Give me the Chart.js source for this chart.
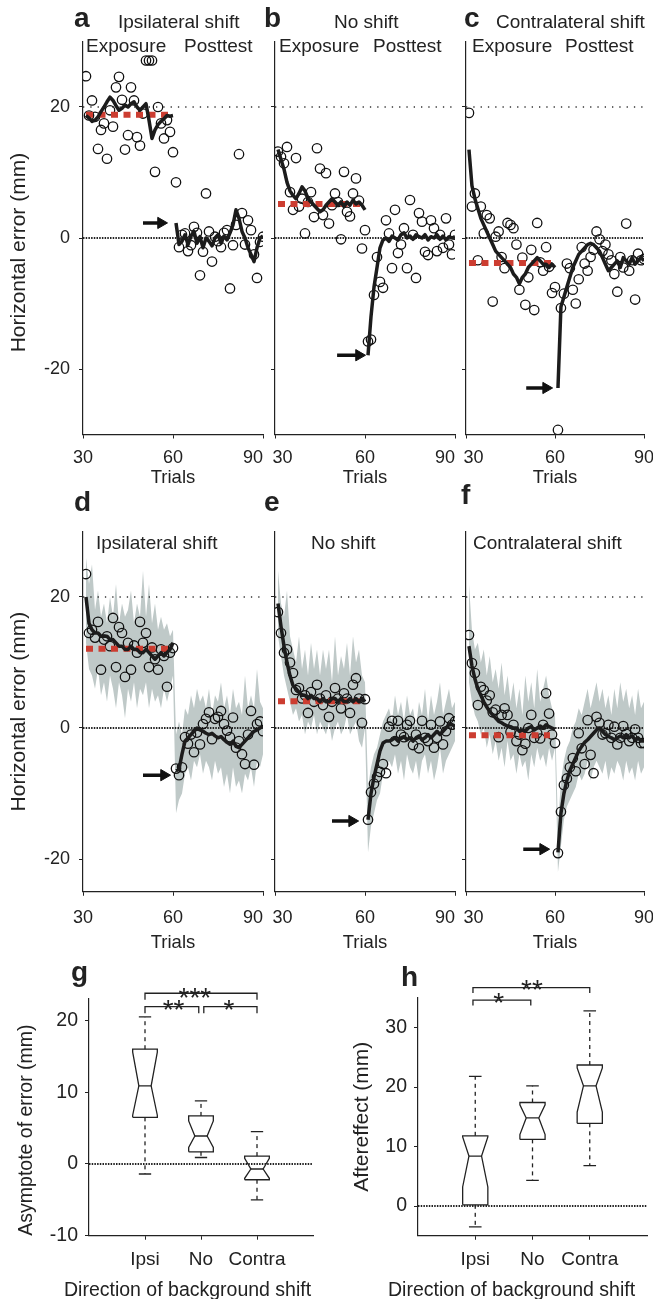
<!DOCTYPE html>
<html>
<head>
<meta charset="utf-8">
<script src="https://cdn.jsdelivr.net/npm/chart.js@4.4.1/dist/chart.umd.min.js"></script>
<style>
  body { margin: 0; background: #fff; font-family: "Liberation Sans", Arial, sans-serif; }
  #fig { position: relative; width: 653px; height: 1299px; overflow: hidden; }
  canvas { position: absolute; }
  .t { position: absolute; white-space: nowrap; line-height: 1; color: #222; }
  .lt { font-weight: bold; font-size: 28px; }
  .s { font-size: 19px; }
  .xt { font-size: 19.5px; }
</style>
</head>
<body>
<div id="fig">
  <canvas id="pa"></canvas>
  <canvas id="pb"></canvas>
  <canvas id="pc"></canvas>
  <canvas id="pd"></canvas>
  <canvas id="pe"></canvas>
  <canvas id="pf"></canvas>
  <canvas id="pg"></canvas>
  <canvas id="ph"></canvas>

  <div class="t lt" style="left:74px;top:4px">a</div>
  <div class="t lt" style="left:264px;top:4px">b</div>
  <div class="t lt" style="left:464px;top:4px">c</div>
  <div class="t s" style="left:118px;top:12px">Ipsilateral shift</div>
  <div class="t s" style="left:334px;top:12px">No shift</div>
  <div class="t s" style="left:496px;top:12px">Contralateral shift</div>
  <div class="t s" style="left:86px;top:36px">Exposure</div>
  <div class="t s" style="left:184px;top:36px">Posttest</div>
  <div class="t s" style="left:279px;top:36px">Exposure</div>
  <div class="t s" style="left:373px;top:36px">Posttest</div>
  <div class="t s" style="left:472px;top:36px">Exposure</div>
  <div class="t s" style="left:565px;top:36px">Posttest</div>

  <div class="t lt" style="left:74px;top:488px">d</div>
  <div class="t lt" style="left:264px;top:488px">e</div>
  <div class="t lt" style="left:461px;top:481px">f</div>
  <div class="t s" style="left:96px;top:533px">Ipsilateral shift</div>
  <div class="t s" style="left:311px;top:533px">No shift</div>
  <div class="t s" style="left:473px;top:533px">Contralateral shift</div>

  <div class="t lt" style="left:71px;top:958px">g</div>
  <div class="t lt" style="left:401px;top:963px">h</div>
  <div class="t xt" style="left:64px;top:1280px">Direction of background shift</div>
  <div class="t xt" style="left:388px;top:1280px">Direction of background shift</div>
</div>
<script>
Chart.defaults.font.family = '"Liberation Sans", Arial, sans-serif';
Chart.defaults.color = "#222";

const RED = "#cc3d31";
const BAND = "#bfc9c8";
const INK = "#1c1c1c";

// ---------- trials ----------
const TRIALS = [31,32,33,34,35,36,37,38,39,40,41,42,43,44,45,46,47,48,49,50,51,52,53,54,55,56,57,58,59,60,
  61,62,63,64,65,66,67,68,69,70,71,72,73,74,75,76,77,78,79,80,81,82,83,84,85,86,87,88,89,90];

// single subjects (a-c): circles = trial errors, fit = model
const aDots = [24.7,18.7,21.0,18.5,13.6,16.5,17.5,12.1,19.5,17.0,23.0,24.6,21.1,13.5,15.7,23.0,21.0,15.4,14.1,19.0,27.1,27.1,27.1,10.1,20.0,17.5,15.2,18.0,16.2,13.1,
  8.5,-1.4,0.5,0.7,-2.0,-1.1,1.7,0.8,-5.7,-2.1,6.8,1.0,-3.6,0.2,-0.5,-1.4,0.8,1.2,-7.7,-1.1,2.0,12.8,3.8,-1.0,2.7,1.2,-2.5,-6.1,-0.6,0.2];
const aFit = [18.7,18.3,17.8,18.0,18.5,19.3,20.0,20.8,21.5,21.0,20.2,19.5,19.8,20.3,20.0,20.5,20.8,20.0,19.5,20.0,20.5,18.0,15.2,16.5,17.3,17.8,18.2,18.7,18.6,18.7,
  2.3,-1.0,-0.5,0.5,-1.0,0.3,1.0,-0.8,0.2,-1.5,0.0,-0.5,-1.2,0.0,0.5,-0.8,0.3,-0.3,0.8,2.0,4.3,3.0,1.0,0.0,-1.5,-2.5,-3.6,-1.5,0.0,0.3];

const bDots = [13.2,12.4,11.4,13.9,7.0,4.3,12.2,4.8,6.0,0.7,5.5,7.0,3.2,13.7,10.6,3.5,9.9,2.2,5.0,6.8,5.5,-0.2,10.1,4.0,3.3,6.8,9.1,5.7,-1.6,1.2,
  -15.8,-15.5,-8.7,-2.9,-6.7,-7.6,2.7,0.7,-4.6,4.3,-2.3,-1.0,1.5,-4.6,5.8,0.5,-6.1,3.8,2.5,-2.1,-2.6,2.7,1.5,-2.0,0.5,-1.5,3.0,-1.0,-2.5,0.5];
const bFit = [13.5,12.0,10.5,8.5,7.2,6.5,6.0,6.8,7.8,7.2,6.0,5.5,5.0,4.5,4.0,4.3,5.0,5.5,6.0,5.5,5.0,5.5,4.8,5.5,5.0,5.8,5.2,5.5,5.0,4.3,
  -17.9,-12.0,-7.5,-4.5,-1.5,-0.3,0.0,-0.5,0.3,0.0,-0.3,0.5,0.8,0.0,0.3,-0.2,0.5,0.2,0.0,0.5,-0.3,0.2,0.0,0.5,-0.2,0.3,-0.3,0.2,0.0,0.2];

const cDots = [19.1,4.8,6.8,-3.4,4.8,0.7,3.5,3.0,-9.7,0.2,1.0,-2.9,-4.6,2.3,2.0,1.5,-1.0,-7.9,-3.0,-10.2,-6.0,-1.8,-11.0,2.3,-3.7,-5.0,-1.4,-4.4,-8.4,-7.5,
  -29.3,-10.7,-8.5,-3.9,-4.6,-7.9,-10.0,-6.3,-1.4,-3.9,-5.0,-2.9,-1.8,1.0,-0.2,-2.0,-1.0,-2.5,-3.4,-5.5,-8.2,-2.9,-4.5,2.2,-5.0,-3.4,-9.4,-2.4,-3.4,-3.2];
const cFit = [13.5,8.0,6.0,4.5,3.0,2.0,1.0,0.0,-1.0,-2.0,-2.5,-3.0,-3.5,-4.0,-4.5,-5.5,-6.0,-7.0,-6.0,-5.5,-4.5,-4.0,-3.5,-3.0,-3.5,-4.0,-4.0,-4.5,-4.0,-4.5,
  -22.9,-10.5,-9.0,-7.5,-6.0,-4.5,-3.5,-2.5,-2.0,-1.5,-1.0,-0.8,-1.0,-1.5,-2.0,-3.0,-4.0,-5.0,-4.5,-4.0,-3.5,-4.5,-3.0,-3.5,-4.0,-3.0,-4.0,-3.5,-3.0,-3.5];

// group means (d-f) with shaded spread
const dDots = [23.5,14.5,15.0,13.8,16.2,8.9,13.5,14.0,12.5,16.8,9.3,15.4,14.5,7.8,13.0,8.9,12.6,11.5,16.2,13.0,14.5,9.3,12.3,10.5,8.9,12.0,11.0,6.3,11.5,12.2,
  -6.2,-7.2,-6.0,-1.4,-2.4,-1.0,-3.7,-0.7,-2.5,0.6,1.4,2.4,-1.7,1.4,1.7,2.6,0.6,-0.4,-1.4,1.6,-3.0,-2.0,-4.0,-5.5,-1.0,2.6,-5.6,0.6,1.0,-0.5];
const dFit = [20,16,15,14.5,14.5,14,14,14,13.5,13.5,13,12.5,12.5,12,12,12.5,12,12,11.5,11.5,12,11.5,11,10.5,11,11.5,11,11.5,12,13,
  -6.5,-6.3,-4,-2,-1.5,-1,-0.5,0,-0.3,-0.5,-0.8,-1,-0.8,-1.2,-1.5,-1.3,-1.8,-2.2,-2.5,-2,-2.8,-3,-2.5,-2,-1.5,-1,-0.5,-0.3,0,0.2];
const dUp = [26,22,25,18,21,17,19,16,20,17,22,16,19,17,18,21,16,19,17,24,17,22,16,19,15,17,15,16,14,15,
  -1,1,-1,3,2,5,3,6,4,5,3,6,2,5,4,7,3,5,2,6,3,4,2,8,3,5,3,9,4,3];
const dLo = [13,9,8,6,9,5,7,4,8,6,3,7,5,1.5,6,4,7,3,6,5,7,3,6,4,5,3,6,4,6,8,
  -13,-11,-10,-7,-6,-8,-5,-6,-4,-7,-5,-6,-8,-5,-7,-6,-9,-7,-10,-6,-9,-8,-10,-7,-8,-6,-9,-5,-6,-4];

const eDots = [17.7,14.5,11.5,12.0,10.0,8.4,5.8,6.1,4.5,5.0,2.3,5.5,4.0,6.6,4.5,3.5,5.0,1.7,4.0,6.1,4.5,3.0,5.3,4.5,2.3,6.6,7.6,4.5,0.8,4.4,
  -14.0,-9.8,-8.5,-7.5,-6.7,-5.5,-6.9,0.2,1.1,-2.0,1.1,-1.0,-1.4,0.5,1.1,-2.6,-1.0,-3.1,1.1,-1.5,-2.0,0.5,-3.0,-1.5,1.0,-2.5,-0.5,1.5,0.5,1.0];
const eFit = [19,15.5,12.5,10,8,6.5,6,5.5,5,5,4.5,5,4.5,4.5,4,4.5,4,4,4.5,4.5,4,4.5,4,4,4.5,4,4.5,4,4.5,4,
  -14,-10,-7.5,-5.5,-3.5,-2.3,-2,-2,-1.8,-1.5,-2,-1.5,-1.3,-1.8,-1.5,-2,-1.5,-1.2,-1.8,-1.5,-1,-1.5,-1,-0.5,-1,-0.5,0,0.5,0.5,0.3];
const eUp = [24,19,17,21,14,12,10,14,9,12,8,13,9,12,8,12,9,12,7,14,8,11,9,13,8,14,10,12,8,7,
  -9,-6,-4,-3,-1,1,2,3,1,5,2,4,1,5,2,3,0,4,2,6,1,5,2,4,7,2,4,6,3,4];
const eLo = [14,11,8,6,4,2,3,1,2,-1,1,0,2,-1,1,0,-1,1,-2,0,1,-1,0,2,-1,0,1,-2,-3,0,
  -19,-15,-13,-11,-10,-7,-6,-5,-6,-4,-7,-5,-8,-4,-6,-7,-5,-8,-5,-4,-7,-5,-8,-6,-3,-7,-5,-4,-3,-2];

const fDots = [14.2,9.9,8.4,3.5,6.3,5.8,4.2,5.0,2.4,2.8,-1.4,2.0,3.0,2.0,-0.6,0.5,-2.0,-1.0,-3.4,-2.4,0.0,2.0,-1.5,-0.8,-1.6,0.5,5.3,2.2,-1.0,-2.3,
  -19.1,-12.8,-8.7,-7.7,-6.0,-4.6,-6.6,-0.8,-3.1,-5.5,1.2,-4.1,-6.9,1.7,0.8,-1.0,-0.8,0.5,-1.5,0.2,-2.5,-1.5,0.3,-0.9,-2.0,-1.5,-0.2,-1.5,-2.3,-2.3];
const fFit = [12.5,9.5,7.5,6,5,4,3.2,2.5,2,1.5,1,0.8,0.5,0.3,0.2,0,0,-0.5,-0.3,-0.5,0,0.2,-0.3,0,0.3,0,0.5,0.2,0,-0.2,
  -19,-13,-10,-8,-6.5,-5.5,-4.5,-3.5,-2.8,-2.2,-1.8,-1.3,-0.8,-0.3,0,-0.5,-1,-1.3,-1.5,-1.8,-1.5,-1.2,-1.5,-1,-1.5,-1.2,-1.8,-1.5,-2,-2];
const fUp = [22,15,12,13,10,12,8,11,7,9,6,10,5,8,4,7,3,6,2,8,4,7,3,9,4,6,8,5,3,2,
  -15,-8,-5,-3,-2,0,1,3,2,4,6,3,5,7,4,6,3,5,2,6,3,7,4,6,3,5,2,6,3,4];
const fLo = [7,4,2,1,-1,0,-3,-1,-4,-2,-5,-3,-6,-2,-5,-4,-7,-4,-6,-5,-8,-4,-6,-3,-5,-4,-6,-3,-5,-3,
  -22,-18,-14,-12,-11,-10,-9,-7,-8,-7,-5,-8,-6,-5,-6,-7,-5,-8,-6,-7,-5,-6,-8,-5,-7,-6,-8,-5,-7,-6];

// asymptote (red) for panels a-f: [value, last trial]
const ASYM = [[18.8, 59.7], [5.2, 59.5], [-3.8, 59.6], [12.1, 60], [4.1, 59.2], [-1.1, 58.3]];
// arrows: [start trial, tip trial, value]
const ARROWS = [[50, 58, 2.3], [50.7, 60, -17.9], [50.3, 59, -22.9], [50, 59, -7.2], [49, 57.7, -14.2], [49.3, 58, -18.5]];

// ---------- box plots ----------
const GROUPS = ["Ipsi", "No", "Contra"];
const gLo = [-1.4, 0.9, -5.0];
const gQ1 = [6.5, 1.7, -2.2];
const gMed = [10.9, 3.9, -0.7];
const gQ3 = [16.0, 6.7, 1.1];
const gHi = [20.5, 8.8, 4.5];
const gNotchLo = [6.8, 2.3, -2.0];
const gNotchHi = [15.6, 6.0, 0.8];

const hLo = [-3.5, 4.3, 6.8];
const hQ1 = [0.2, 11.2, 13.9];
const hMed = [8.4, 14.8, 20.2];
const hQ3 = [11.8, 17.4, 23.7];
const hHi = [21.8, 20.2, 32.8];
const hNotchLo = [3.2, 12.0, 15.8];
const hNotchHi = [11.6, 17.0, 23.2];

// significance brackets: [from, to, top, foot]
const gBrackets = [[1, 3, 23.8, 22.9], [1, 1.96, 21.95, 21.0], [2.05, 3, 21.95, 21.0]];
const gStars = [["***", 1.89, 21.85], ["**", 1.51, 20.2], ["*", 2.5, 20.2]];
const hBrackets = [[0.96, 3, 36.7, 35.8], [0.96, 1.97, 34.6, 33.7]];
const hStars = [["**", 1.99, 34.8], ["*", 1.41, 32.6]];

// ===================== helpers =====================
function place(id, box, area) {
  const c = document.getElementById(id);
  const w = box[2] - box[0], h = box[3] - box[1];
  c.width = w; c.height = h;
  c.style.left = box[0] + "px"; c.style.top = box[1] + "px";
  c.style.width = w + "px"; c.style.height = h + "px";
  return {
    canvas: c,
    padding: { left: 0, top: area[1] - box[1], right: box[2] - area[2], bottom: 0 },
    yWidth: area[0] - box[0],
    xHeight: box[3] - area[3],
  };
}

function axisX(p, min, max, ticks, labels, o) {
  return {
    type: "linear", min, max,
    afterBuildTicks: (s) => { s.ticks = ticks.map((v) => ({ value: v })); },
    afterFit: (s) => { s.height = p.xHeight; s.paddingLeft = 0; s.paddingRight = 0; },
    ticks: { autoSkip: false, maxRotation: 0, padding: o.tickPad, color: "#222",
      font: { size: o.tickSize, lineHeight: 1 }, callback: (v, i) => labels[i] },
    grid: { drawOnChartArea: false, tickLength: 4, color: "#222" },
    border: { color: "#222", width: 1.2 },
    title: { display: !!o.title, text: o.title || "", color: "#222",
      font: { size: o.titleSize || 18, lineHeight: 1 }, padding: { top: 0, bottom: o.titlePad || 0 } },
  };
}

function axisY(p, min, max, ticks, o) {
  return {
    type: "linear", min, max,
    afterBuildTicks: (s) => { s.ticks = ticks.map((v) => ({ value: v })); },
    afterFit: (s) => { s.width = p.yWidth; s.paddingTop = 0; s.paddingBottom = 0; },
    ticks: { padding: o.tickPad || 9, color: "#222", font: { size: o.tickSize || 18, lineHeight: 1 },
      callback: (v) => (o.labels ? String(v) : "") },
    grid: { drawOnChartArea: false, tickLength: 4, color: "#222" },
    border: { color: "#222", width: 1.2 },
    title: { display: !!o.title, text: o.title || "", color: "#222", align: o.titleAlign || "center",
      font: { size: o.titleSize || 21, lineHeight: 1 }, padding: { top: o.titlePad || 0, bottom: 0 } },
  };
}

const pts = (arr) => TRIALS.map((t, i) => ({ x: t, y: arr[i] }));
const flat = (color, width, dash) => ({ borderColor: color, borderWidth: width, borderDash: dash || [],
  pointRadius: 0, borderCapStyle: "butt", fill: false });

function trialSets(k, dots, fit, up, lo) {
  const [a0, a1, ay] = ARROWS[k];
  const sets = [
    { data: [{ x: a0, y: ay }, { x: a1 - 2, y: ay }], borderColor: "#111", borderWidth: 3.5,
      pointRadius: [0, 6.5], pointStyle: "triangle", pointRotation: 90,
      pointBackgroundColor: "#111", pointBorderColor: "#111", pointBorderWidth: 1 },
    { data: pts(fit), ...flat(INK, 3.5), borderJoinStyle: "round",
      segment: { borderColor: (c) => (c.p0.parsed.x === 60 ? "rgba(0,0,0,0)" : undefined) } },
    { data: [{ x: 31, y: ASYM[k][0] }, { x: ASYM[k][1], y: ASYM[k][0] }], ...flat(RED, 6, [7, 5.5]) },
    { data: pts(dots), showLine: false, pointRadius: 4.7, pointBorderWidth: 1.3,
      pointBorderColor: "#111", pointBackgroundColor: "rgba(0,0,0,0)" },
    { data: [{ x: 30, y: 20 }, { x: 90, y: 20 }], ...flat("#333", 1.3, [1.3, 6]) },
    { data: [{ x: 30, y: 0 }, { x: 90, y: 0 }], ...flat("#222", 2, [1.5, 1.2]) },
  ];
  if (up) {
    sets.push({ data: pts(up), borderColor: "rgba(0,0,0,0)", borderWidth: 0, pointRadius: 0,
      fill: "+1", backgroundColor: BAND });
    sets.push({ data: pts(lo), borderColor: "rgba(0,0,0,0)", borderWidth: 0, pointRadius: 0, fill: false });
  }
  return sets;
}

function trialChart(id, box, area, k, sets, o) {
  const p = place(id, box, area);
  new Chart(p.canvas, {
    type: "line",
    data: { datasets: sets },
    options: {
      responsive: false, animation: false,
      layout: { padding: p.padding },
      plugins: { legend: { display: false }, tooltip: { enabled: false } },
      scales: {
        x: axisX(p, 30, 90, [30, 60, 90], o.xLabels,
          { tickPad: o.tickPad, tickSize: 18, title: "Trials", titleSize: 18.5, titlePad: 5.25 }),
        y: axisY(p, o.yMin, 30, [-20, 0, 20],
          { labels: o.yLabels, title: o.yTitle, titleSize: 21, titlePad: 8.5, tickPad: 9 }),
      },
    },
  });
}

function starsPlugin(items) {
  return {
    id: "stars",
    afterDatasetsDraw(chart) {
      const { ctx, scales } = chart;
      ctx.save();
      ctx.font = '28px "Liberation Sans", Arial, sans-serif';
      ctx.fillStyle = "#222";
      ctx.textAlign = "center";
      ctx.textBaseline = "alphabetic";
      items.forEach(([txt, vx, vy]) => ctx.fillText(txt, scales.x.getPixelForValue(vx), scales.y.getPixelForValue(vy)));
      ctx.restore();
    },
  };
}

const BOX_W = 0.22;
function boxSets(lo, q1, med, q3, hi, nlo, nhi, brackets) {
  const solid = flat("#222", 1.3);
  const dashed = flat("#222", 1.3, [4, 4]);
  const sets = [];
  brackets.forEach(([x0, x1, top, foot]) => {
    sets.push({ data: [{ x: x0, y: foot }, { x: x0, y: top }, { x: x1, y: top }, { x: x1, y: foot }],
      ...solid, clip: false });
  });
  for (let i = 0; i < GROUPS.length; i++) {
    const x = i + 1, w = BOX_W, n = BOX_W / 2;
    sets.push({ data: [
      { x: x - w, y: q1[i] }, { x: x - w, y: nlo[i] }, { x: x - n, y: med[i] }, { x: x - w, y: nhi[i] },
      { x: x - w, y: q3[i] }, { x: x + w, y: q3[i] }, { x: x + w, y: nhi[i] }, { x: x + n, y: med[i] },
      { x: x + w, y: nlo[i] }, { x: x + w, y: q1[i] }, { x: x - w, y: q1[i] }], ...solid, borderJoinStyle: "miter" });
    sets.push({ data: [{ x: x - n, y: med[i] }, { x: x + n, y: med[i] }], ...solid });
    sets.push({ data: [{ x, y: q3[i] }, { x, y: hi[i] }], ...dashed });
    sets.push({ data: [{ x, y: q1[i] }, { x, y: lo[i] }], ...dashed });
    sets.push({ data: [{ x: x - w / 2, y: hi[i] }, { x: x + w / 2, y: hi[i] }], ...solid });
    sets.push({ data: [{ x: x - w / 2, y: lo[i] }, { x: x + w / 2, y: lo[i] }], ...solid });
  }
  sets.push({ data: [{ x: 0, y: 0 }, { x: 4, y: 0 }], ...flat("#222", 2, [1.5, 1.2]) });
  return sets;
}

function boxChart(id, box, area, sets, stars, o) {
  const p = place(id, box, area);
  new Chart(p.canvas, {
    type: "line",
    data: { datasets: sets },
    options: {
      responsive: false, animation: false,
      layout: { padding: p.padding },
      plugins: { legend: { display: false }, tooltip: { enabled: false } },
      scales: {
        x: axisX(p, 0, 4, [1, 2, 3], GROUPS, { tickPad: 10.5, tickSize: 19 }),
        y: axisY(p, o.yMin, o.yMax, o.yTicks,
          { labels: true, title: o.yTitle, titleAlign: o.titleAlign, titleSize: o.titleSize,
            titlePad: o.titlePad, tickPad: 7, tickSize: 19.5 }),
      },
    },
    plugins: [starsPlugin(stars)],
  });
}

// ===================== panels =====================
const ROW1 = [0, 492], ROW2 = [500, 957];
const Y1 = [41.5, 434.5], Y2 = [531.5, 891.75];
const HT = "Horizontal error (mm)";

trialChart("pa", [0, ROW1[0], 275, ROW1[1]], [83, Y1[0], 263, Y1[1]], 0, trialSets(0, aDots, aFit),
  { xLabels: ["30", "60", "90    "], tickPad: 11, yMin: -30, yLabels: true, yTitle: HT + "     " });
trialChart("pb", [205, ROW1[0], 465, ROW1[1]], [275, Y1[0], 455, Y1[1]], 1, trialSets(1, bDots, bFit),
  { xLabels: ["   30", "60", "90    "], tickPad: 11, yMin: -30, yLabels: false });
trialChart("pc", [395, ROW1[0], 653, ROW1[1]], [466, Y1[0], 644, Y1[1]], 2, trialSets(2, cDots, cFit),
  { xLabels: ["   30", "60", "90"], tickPad: 11, yMin: -30, yLabels: false });

trialChart("pd", [0, ROW2[0], 275, ROW2[1]], [83, Y2[0], 263, Y2[1]], 3, trialSets(3, dDots, dFit, dUp, dLo),
  { xLabels: ["30", "60", "90    "], tickPad: 13.75, yMin: -25, yLabels: true, yTitle: HT });
trialChart("pe", [205, ROW2[0], 465, ROW2[1]], [275, Y2[0], 455, Y2[1]], 4, trialSets(4, eDots, eFit, eUp, eLo),
  { xLabels: ["   30", "60", "90    "], tickPad: 13.75, yMin: -25, yLabels: false });
trialChart("pf", [395, ROW2[0], 653, ROW2[1]], [466, Y2[0], 644, Y2[1]], 5, trialSets(5, fDots, fFit, fUp, fLo),
  { xLabels: ["   30", "60", "90"], tickPad: 13.75, yMin: -25, yLabels: false });

boxChart("pg", [0, 965, 330, 1299], [89, 999, 313, 1235.7],
  boxSets(gLo, gQ1, gMed, gQ3, gHi, gNotchLo, gNotchHi, gBrackets), gStars,
  { yMin: -10, yMax: 23, yTicks: [-10, 0, 10, 20], yTitle: "Asymptote of error (mm)", titleAlign: "start",
    titleSize: 19.5, titlePad: 17 });
boxChart("ph", [330, 965, 653, 1299], [418, 997.8, 647, 1235.75],
  boxSets(hLo, hQ1, hMed, hQ3, hHi, hNotchLo, hNotchHi, hBrackets), hStars,
  { yMin: -5, yMax: 35, yTicks: [0, 10, 20, 30], yTitle: "Aftereffect (mm)", titleSize: 21, titlePad: 21.5 });
</script>
</body>
</html>
